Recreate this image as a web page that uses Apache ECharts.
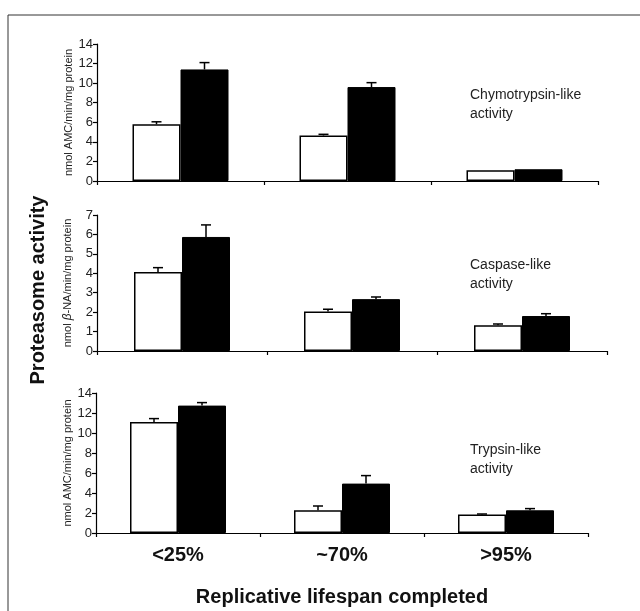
<!DOCTYPE html>
<html>
<head>
<meta charset="utf-8">
<script src="https://cdn.jsdelivr.net/npm/echarts@6/dist/echarts.min.js"></script>
<style>
  html, body { margin: 0; padding: 0; background: #fff; }
  #chart { width: 640px; height: 611px; }
</style>
</head>
<body>
<div id="chart"></div>
<script>
// 数据
const categories = ['<25%', '~70%', '>95%'];

const chymoWhite = [5.8, 4.65, 1.1];
const chymoWhiteErr = [0.25, 0.12, 0];
const chymoBlack = [11.4, 9.6, 1.2];
const chymoBlackErr = [0.7, 0.45, 0];

const caspWhite = [4.07, 2.03, 1.32];
const caspWhiteErr = [0.22, 0.12, 0.07];
const caspBlack = [5.87, 2.67, 1.8];
const caspBlackErr = [0.62, 0.11, 0.12];

const trypWhite = [11.1, 2.27, 1.84];
const trypWhiteErr = [0.34, 0.43, 0.06];
const trypBlack = [12.74, 4.94, 2.27];
const trypBlackErr = [0.3, 0.8, 0.17];

const yMax = [14, 7, 14];
const yInterval = [2, 1, 2];

const FONT = 'Liberation Sans, Arial, sans-serif';
const BAR_W = 48;

const dom = document.getElementById('chart');
const myChart = echarts.init(dom);

// 误差线
function errorRender(offset) {
    return function (params, api) {
        const base = api.coord([api.value(0), api.value(1)]);
        const top = api.coord([api.value(0), api.value(2)]);
        if (api.value(2) <= api.value(1)) return null;
        const x = base[0] + offset;
        const style = { stroke: '#000', lineWidth: 1.5 };
        return {
            type: 'group',
            children: [
                { type: 'line', shape: { x1: x, y1: base[1], x2: x, y2: top[1] }, style: style },
                { type: 'line', shape: { x1: x - 5, y1: top[1], x2: x + 5, y2: top[1] }, style: style }
            ]
        };
    };
}

function errData(mean, err) {
    return categories.map((c, i) => [i, mean[i], mean[i] + err[i]]);
}

const grids = [
    { left: 97, top: 44, width: 501, height: 137 },
    { left: 97, top: 215, width: 510, height: 136 },
    { left: 96, top: 393, width: 492, height: 140 }
];

const panels = [
    { white: chymoWhite, whiteErr: chymoWhiteErr, black: chymoBlack, blackErr: chymoBlackErr },
    { white: caspWhite, whiteErr: caspWhiteErr, black: caspBlack, blackErr: caspBlackErr },
    { white: trypWhite, whiteErr: trypWhiteErr, black: trypBlack, blackErr: trypBlackErr }
];

const yNames = [
    'nmol AMC/min/mg protein',
    '{a|nmol }{b|β}{a|-NA/min/mg protein}',
    'nmol AMC/min/mg protein'
];

let xAxes = [];
let yAxes = [];
let seriesArr = [];

panels.forEach((p, i) => {
    xAxes.push({
        type: 'category',
        gridIndex: i,
        data: categories,
        axisLine: { lineStyle: { color: '#000', width: 1.2 } },
        axisTick: { show: true, length: 4, lineStyle: { color: '#000', width: 1.2 } },
        axisLabel: {
            show: i === 2,
            margin: 12,
            fontFamily: FONT,
            fontSize: 20,
            fontWeight: 'bold',
            color: '#111'
        }
    });
    yAxes.push({
        type: 'value',
        gridIndex: i,
        min: 0,
        max: yMax[i],
        interval: yInterval[i],
        splitLine: { show: false },
        axisLine: { show: true, lineStyle: { color: '#000', width: 1.2 } },
        axisTick: { show: true, length: 4, lineStyle: { color: '#000', width: 1.2 } },
        axisLabel: { fontFamily: FONT, fontSize: 13, color: '#222', margin: 4 },
        name: yNames[i],
        nameLocation: 'middle',
        nameRotate: 90,
        nameGap: 23,
        nameMoveOverlap: false,
        nameTextStyle: {
            fontFamily: FONT,
            fontSize: 11,
            color: '#222',
            rich: {
                a: { fontFamily: FONT, fontSize: 11, color: '#222' },
                b: { fontFamily: FONT, fontSize: 12, fontStyle: 'italic', color: '#222' }
            }
        }
    });
    seriesArr.push({
        type: 'bar',
        xAxisIndex: i,
        yAxisIndex: i,
        data: p.white,
        barWidth: BAR_W,
        barGap: '0%',
        itemStyle: { color: '#fff', borderColor: '#000', borderWidth: 1.5 },
        z: 2
    });
    seriesArr.push({
        type: 'bar',
        xAxisIndex: i,
        yAxisIndex: i,
        data: p.black,
        barWidth: BAR_W,
        barGap: '0%',
        itemStyle: { color: '#000', borderColor: '#000', borderWidth: 1 },
        z: 2
    });
    seriesArr.push({
        type: 'custom',
        xAxisIndex: i,
        yAxisIndex: i,
        renderItem: errorRender(-BAR_W / 2),
        data: errData(p.white, p.whiteErr),
        z: 3
    });
    seriesArr.push({
        type: 'custom',
        xAxisIndex: i,
        yAxisIndex: i,
        renderItem: errorRender(BAR_W / 2),
        data: errData(p.black, p.blackErr),
        z: 3
    });
});

const textStyle = { fontFamily: FONT, fontSize: 14, fill: '#222', lineHeight: 19 };

const option = {
    backgroundColor: '#fff',
    animation: false,
    grid: grids,
    xAxis: xAxes,
    yAxis: yAxes,
    series: seriesArr,
    graphic: [
        { type: 'line', shape: { x1: 8, y1: 15, x2: 640, y2: 15 }, style: { stroke: '#333', lineWidth: 1 } },
        { type: 'line', shape: { x1: 8, y1: 15, x2: 8, y2: 611 }, style: { stroke: '#333', lineWidth: 1 } },
        {
            type: 'text', left: 470, top: 86,
            style: Object.assign({ text: 'Chymotrypsin-like\nactivity' }, textStyle)
        },
        {
            type: 'text', left: 470, top: 256,
            style: Object.assign({ text: 'Caspase-like\nactivity' }, textStyle)
        },
        {
            type: 'text', left: 470, top: 441,
            style: Object.assign({ text: 'Trypsin-like\nactivity' }, textStyle)
        },
        {
            type: 'text', x: 38, y: 290, rotation: Math.PI / 2,
            style: {
                text: 'Proteasome activity', fontFamily: FONT, fontSize: 20, fontWeight: 'bold',
                fill: '#111', align: 'center', verticalAlign: 'middle'
            }
        },
        {
            type: 'text', x: 342, y: 597,
            style: {
                text: 'Replicative lifespan completed', fontFamily: FONT, fontSize: 20, fontWeight: 'bold',
                fill: '#111', align: 'center', verticalAlign: 'middle'
            }
        }
    ]
};

myChart.setOption(option);
</script>
</body>
</html>
